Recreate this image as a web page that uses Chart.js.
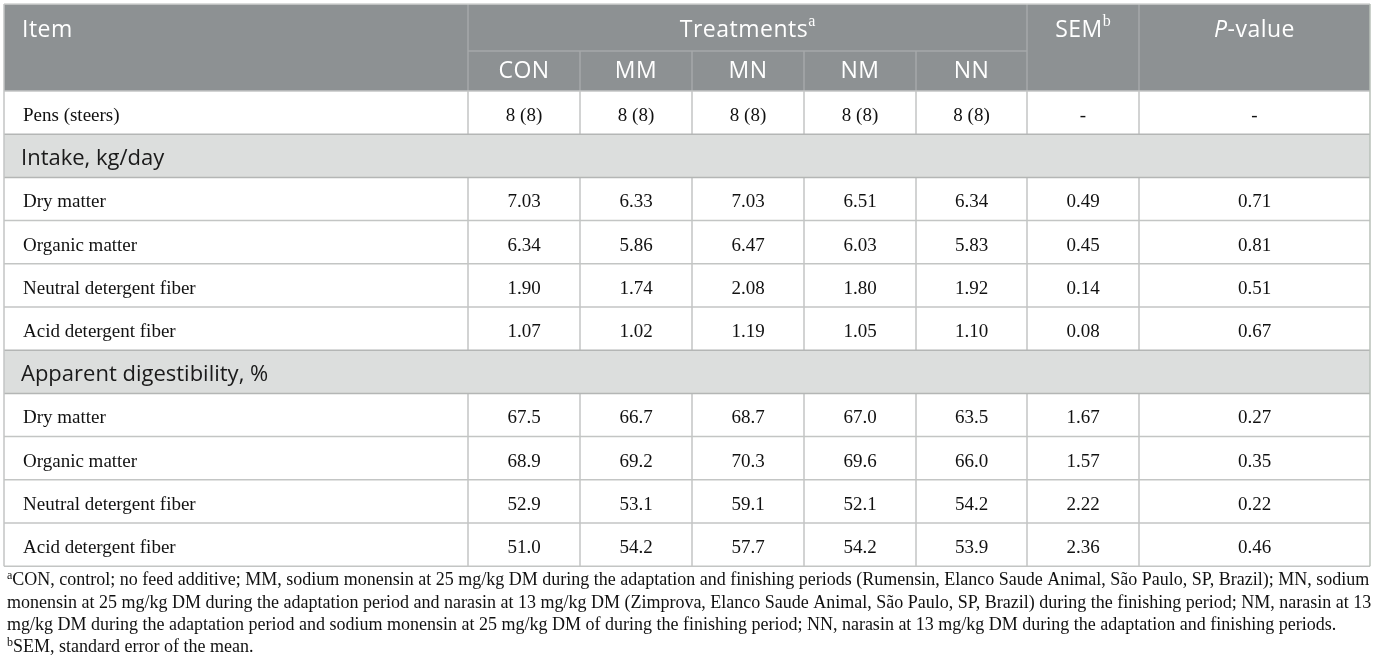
<!DOCTYPE html>
<html><head><meta charset="utf-8">
<script src="https://cdn.jsdelivr.net/npm/chart.js@4.4.0/dist/chart.umd.min.js"></script>
<style>html,body{margin:0;padding:0;background:#fff;overflow:hidden}#wrap{width:1375px;height:671px;position:relative}</style>
</head><body><div id="wrap"><canvas id="c"></canvas></div>
<script>
// ---------- DATA ----------
const treatments = ['CON', 'MM', 'MN', 'NM', 'NN'];
const items = ['Dry matter', 'Organic matter', 'Neutral detergent fiber', 'Acid detergent fiber'];
const sections = ['Intake, kg/day', 'Apparent digestibility, %'];
const pens = [8, 8, 8, 8, 8];
const steers = [8, 8, 8, 8, 8];
const intakeDM  = [7.03, 6.33, 7.03, 6.51, 6.34];
const intakeOM  = [6.34, 5.86, 6.47, 6.03, 5.83];
const intakeNDF = [1.90, 1.74, 2.08, 1.80, 1.92];
const intakeADF = [1.07, 1.02, 1.19, 1.05, 1.10];
const intakeSEM = [0.49, 0.45, 0.14, 0.08];
const intakeP   = [0.71, 0.81, 0.51, 0.67];
const digDM  = [67.5, 66.7, 68.7, 67.0, 63.5];
const digOM  = [68.9, 69.2, 70.3, 69.6, 66.0];
const digNDF = [52.9, 53.1, 59.1, 52.1, 54.2];
const digADF = [51.0, 54.2, 57.7, 54.2, 53.9];
const digSEM = [1.67, 1.57, 2.22, 2.36];
const digP   = [0.27, 0.35, 0.22, 0.46];
const footnoteLines = [
  ['a', 'CON, control; no feed additive; MM, sodium monensin at 25 mg/kg DM during the adaptation and finishing periods (Rumensin, Elanco Saude Animal, São Paulo, SP, Brazil); MN, sodium'],
  ['', 'monensin at 25 mg/kg DM during the adaptation period and narasin at 13 mg/kg DM (Zimprova, Elanco Saude Animal, São Paulo, SP, Brazil) during the finishing period; NM, narasin at 13'],
  ['', 'mg/kg DM during the adaptation period and sodium monensin at 25 mg/kg DM of during the finishing period; NN, narasin at 13 mg/kg DM during the adaptation and finishing periods.'],
  ['b', 'SEM, standard error of the mean.']
];

// ---------- LAYOUT (styles/positions) ----------
const colEdges = [4, 468, 580, 692, 804, 916, 1027, 1139, 1370];
const headTop = 4, headMid = 51, headBot = 91;
const rowH = 43.2;
const footBase = [585, 607.5, 630, 652];
const SANS = '"Open Sans", "Noto Sans", sans-serif';
const SERIF = '"Liberation Serif", "DejaVu Serif", serif';
const C = {head: '#8d9193', headLine: '#a6a9aa', section: '#dcdedd', line: '#c3c5c4', sectLine: '#b4b6b5', text: '#111'};
const HF = '23px ' + SANS, HSP = '0.5px';

// build body rows
const intakeRows = [intakeDM, intakeOM, intakeNDF, intakeADF];
const digRows = [digDM, digOM, digNDF, digADF];
const rows = [];
rows.push({type: 'data', label: 'Pens (steers)', cells: pens.map((p, i) => p + ' (' + steers[i] + ')'), sem: '-', p: '-'});
rows.push({type: 'section', label: sections[0]});
intakeRows.forEach((r, i) => rows.push({type: 'data', label: items[i], cells: r.map(v => v.toFixed(2)), sem: intakeSEM[i].toFixed(2), p: intakeP[i].toFixed(2)}));
rows.push({type: 'section', label: sections[1]});
digRows.forEach((r, i) => rows.push({type: 'data', label: items[i], cells: r.map(v => v.toFixed(1)), sem: digSEM[i].toFixed(2), p: digP[i].toFixed(2)}));
const rowTop = i => headBot + i * rowH;
const tableBot = rowTop(rows.length);
const colMid = i => (colEdges[i] + colEdges[i + 1]) / 2;

// text points (positioned through the chart scales)
const pts = [];
const hdr = (x, y, runs, align) => pts.push({x, y, runs, align: align || 'center'});
const W = '#fff';
hdr(22, 30, [{t: 'Item', f: HF, c: W, ls: HSP}], 'left');
hdr((colEdges[1] + colEdges[6]) / 2, 30, [{t: 'Treatments', f: HF, c: W, ls: HSP}, {t: 'a', f: '16px ' + SERIF, c: W, dy: -8}]);
treatments.forEach((t, i) => hdr(colMid(i + 1), 71, [{t, f: HF, c: W, ls: HSP}]));
hdr(colMid(6), 30, [{t: 'SEM', f: HF, c: W, ls: HSP}, {t: 'b', f: '16px ' + SERIF, c: W, dy: -8}]);
hdr(colMid(7), 30, [{t: 'P', f: 'italic ' + HF, c: W, ls: HSP}, {t: '-value', f: HF, c: W, ls: HSP}]);
rows.forEach((r, i) => {
  const y = rowTop(i) + rowH / 2 + 3.5;
  if (r.type === 'section') {
    hdr(21, y - 0.5, [{t: r.label, f: '22px ' + SANS, c: '#1a1a1a'}], 'left');
  } else {
    const tf = '19px ' + SERIF;
    hdr(23, y, [{t: r.label, f: tf, c: C.text}], 'left');
    r.cells.forEach((v, k) => hdr(colMid(k + 1), y, [{t: v, f: tf, c: C.text}]));
    hdr(colMid(6), y, [{t: r.sem, f: tf, c: C.text}]);
    hdr(colMid(7), y, [{t: r.p, f: tf, c: C.text}]);
  }
});

function drawRuns(ctx, x, y, runs, align) {
  let w = 0;
  runs.forEach(r => {
    ctx.font = r.f; ctx.letterSpacing = r.ls || '0px';
    r.w = ctx.measureText(r.t).width; w += r.w;
  });
  let cx = align === 'center' ? x - w / 2 : x;
  runs.forEach(r => {
    ctx.font = r.f; ctx.letterSpacing = r.ls || '0px'; ctx.fillStyle = r.c;
    ctx.fillText(r.t, cx, y + (r.dy || 0));
    cx += r.w;
  });
  ctx.letterSpacing = '0px';
}

const tablePlugin = {
  id: 'table',
  beforeDatasetsDraw(chart) {
    const {ctx, scales: {x, y}} = chart;
    const X = v => x.getPixelForValue(v), Y = v => y.getPixelForValue(v);
    const L = colEdges[0], R = colEdges[colEdges.length - 1];
    ctx.save();
    ctx.fillStyle = C.head;
    ctx.fillRect(X(L), Y(headTop), X(R) - X(L), Y(headBot) - Y(headTop));
    rows.forEach((r, i) => {
      if (r.type === 'section') {
        ctx.fillStyle = C.section;
        ctx.fillRect(X(L), Y(rowTop(i)), X(R) - X(L), Y(rowTop(i + 1)) - Y(rowTop(i)));
      }
    });
    const line = (x1, y1, x2, y2, col) => {
      ctx.strokeStyle = col; ctx.lineWidth = 1.5;
      ctx.beginPath(); ctx.moveTo(X(x1), Y(y1)); ctx.lineTo(X(x2), Y(y2)); ctx.stroke();
    };
    line(colEdges[1], headMid, colEdges[6], headMid, C.headLine);
    [1, 6, 7].forEach(k => line(colEdges[k], headTop, colEdges[k], headBot, C.headLine));
    [2, 3, 4, 5].forEach(k => line(colEdges[k], headMid, colEdges[k], headBot, C.headLine));
    rows.forEach((r, i) => {
      if (r.type === 'data') for (let k = 1; k <= 7; k++) line(colEdges[k], rowTop(i), colEdges[k], rowTop(i + 1), C.line);
    });
    for (let i = 0; i <= rows.length; i++) {
      const s = (rows[i] && rows[i].type === 'section') || (rows[i - 1] && rows[i - 1].type === 'section');
      line(L, rowTop(i), R, rowTop(i), s ? C.sectLine : C.line);
    }
    line(L, headTop, R, headTop, '#d0d2d1');
    line(L, headTop, L, tableBot, '#c3c5c4');
    line(R, headTop, R, tableBot, '#b9c0b9');
    ctx.restore();
  },
  afterDatasetsDraw(chart) {
    const {ctx, scales: {x, y}} = chart;
    const meta = chart.getDatasetMeta(0);
    ctx.save();
    ctx.textBaseline = 'middle';
    meta.data.forEach((el, i) => {
      const d = chart.data.datasets[0].data[i];
      drawRuns(ctx, el.x, el.y, d.runs, d.align);
    });
    ctx.textBaseline = 'alphabetic';
    footnoteLines.forEach((fl, i) => {
      const bx = x.getPixelForValue(7), by = y.getPixelForValue(footBase[i]);
      const runs = [];
      if (fl[0]) runs.push({t: fl[0], f: '12px ' + SERIF, c: C.text, dy: -6});
      runs.push({t: fl[1], f: '18px ' + SERIF, c: C.text});
      drawRuns(ctx, bx, by, runs, 'left');
    });
    ctx.restore();
  }
};

new Chart(document.getElementById('c'), {
  type: 'scatter',
  data: {datasets: [{data: pts, pointRadius: 0, pointHoverRadius: 0, showLine: false}]},
  options: {
    responsive: true, maintainAspectRatio: false, animation: false,
    events: [],
    layout: {padding: 0},
    plugins: {legend: {display: false}, tooltip: {enabled: false}},
    scales: {
      x: {type: 'linear', min: 0, max: 1375, display: false},
      y: {type: 'linear', min: 0, max: 671, reverse: true, display: false}
    }
  },
  plugins: [tablePlugin]
});
</script>
</body></html>
